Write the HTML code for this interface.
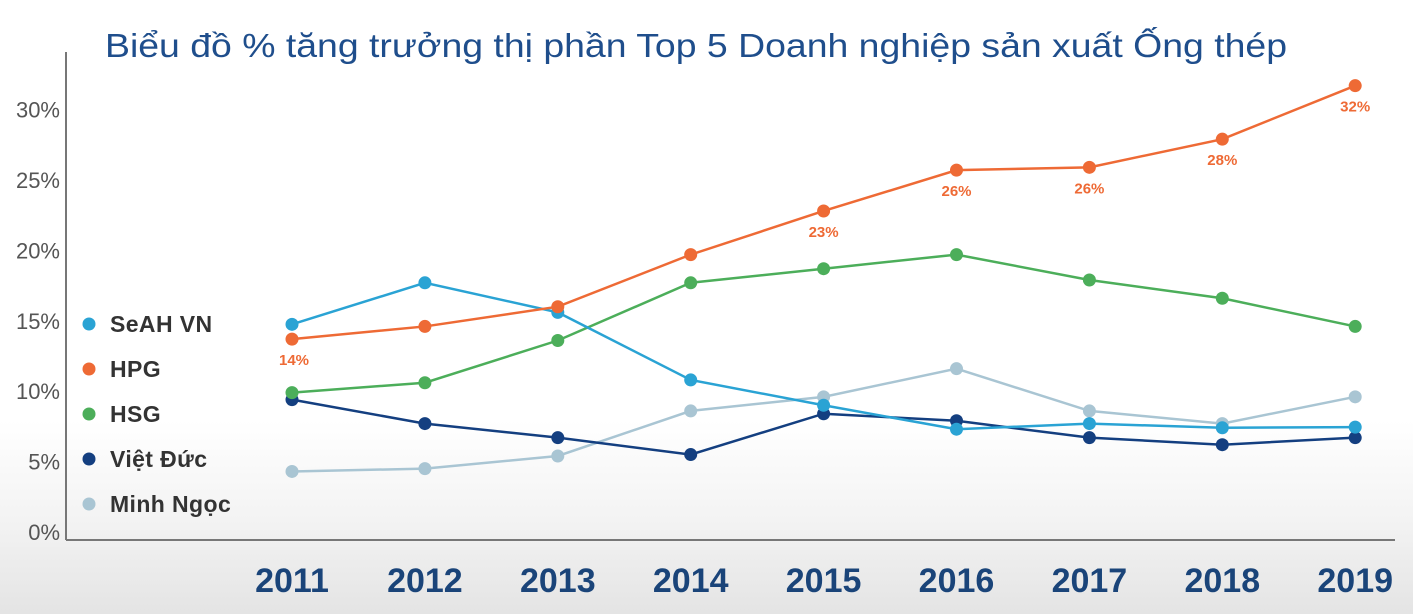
<!DOCTYPE html>
<html><head><meta charset="utf-8">
<style>
html,body{margin:0;padding:0;}
body{width:1413px;height:614px;overflow:hidden;background:linear-gradient(#ffffff 0px,#ffffff 420px,#f3f3f3 520px,#e4e4e4 614px);font-family:"Liberation Sans","DejaVu Sans",sans-serif;}
svg{display:block}
</style></head>
<body>
<svg id="chart" width="1413" height="614" xmlns="http://www.w3.org/2000/svg">
<text x="105" y="57" font-size="33" textLength="1182" lengthAdjust="spacingAndGlyphs" fill="#1f4e8c" font-family="'Liberation Sans','DejaVu Sans',sans-serif">Biểu đồ % tăng trưởng thị phần Top 5 Doanh nghiệp sản xuất Ống thép</text>
<line x1="66" y1="52" x2="66" y2="540" stroke="#777" stroke-width="2"/>
<line x1="66" y1="540" x2="1395" y2="540" stroke="#777" stroke-width="2"/>
<g id="yticks"></g><g id="xticks"></g><g id="series"></g><g id="legend"></g>
</svg>
<script>
const years = ["2011","2012","2013","2014","2015","2016","2017","2018","2019"];
const yTickValues = [0,5,10,15,20,25,30];
const seriesNames = ["SeAH VN","HPG","HSG","Việt Đức","Minh Ngọc"];
const seriesColors = ["#2aa3d4","#ee6a35","#4cae5a","#143f80","#a9c5d3"];
const seahValues = [14.75,17.7,15.6,10.8,9.0,7.3,7.7,7.4,7.45];
const hpgValues = [13.7,14.6,16.0,19.7,22.8,25.7,25.9,27.9,31.7];
const hsgValues = [9.9,10.6,13.6,17.7,18.7,19.7,17.9,16.6,14.6];
const vietducValues = [9.4,7.7,6.7,5.5,8.4,7.9,6.7,6.2,6.7];
const minhngocValues = [4.3,4.5,5.4,8.6,9.6,11.6,8.6,7.7,9.6];
const hpgLabels = ["14%","","","","23%","26%","26%","28%","32%"];

const NS="http://www.w3.org/2000/svg";
function xPos(i){return 292+i*132.9;}
function yPos(v){return 532-v*14.08;}
function mk(tag,attrs,parent){const e=document.createElementNS(NS,tag);for(const k in attrs)e.setAttribute(k,attrs[k]);parent.appendChild(e);return e;}

const yg=document.getElementById('yticks');
yTickValues.forEach(v=>{
  const t=mk('text',{x:60,y:yPos(v)+8,'text-anchor':'end','font-size':22,fill:'#555'},yg);
  
  
  t.textContent=v+'%';
});
const xg=document.getElementById('xticks');
years.forEach((y,i)=>{
  const t=mk('text',{x:xPos(i),y:592,'text-anchor':'middle','font-size':34,'font-weight':'bold',fill:'#1a4479'},xg);
  
  
  t.textContent=y;
});
const allSeries=[seahValues,hpgValues,hsgValues,vietducValues,minhngocValues];
const drawOrder=[4,3,2,0,1];
const sg=document.getElementById('series');
drawOrder.forEach(si=>{
  const vals=allSeries[si];
  const g=mk('g',{},sg);
  
  
  const pl=mk('polyline',{points:vals.map((v,i)=>xPos(i)+','+yPos(v)).join(' '),fill:'none',stroke:seriesColors[si],'stroke-width':2.5},g);
  
  
  vals.forEach((v,i)=>{
    const c=mk('circle',{cx:xPos(i),cy:yPos(v),r:6.5,fill:seriesColors[si]},g);
    
    
  });
});
hpgLabels.forEach((l,i)=>{
  if(!l)return;
  const t=mk('text',{x:xPos(i)+(i===0?2:0),y:yPos(hpgValues[i])+26,'text-anchor':'middle','font-size':15,'font-weight':'bold',fill:'#ee6a35'},sg);
  
  
  t.textContent=l;
});
const lg=document.getElementById('legend');
seriesNames.forEach((n,i)=>{
  const y=324+i*45;
  const g=mk('g',{},lg);
  
  
  mk('circle',{cx:89,cy:y,r:6.5,fill:seriesColors[i]},g);
  const t=mk('text',{x:110,y:y+8,'font-size':23,'font-weight':'bold','letter-spacing':'0.4',fill:'#333'},g);
  t.textContent=n;
});
</script>
</body></html>
